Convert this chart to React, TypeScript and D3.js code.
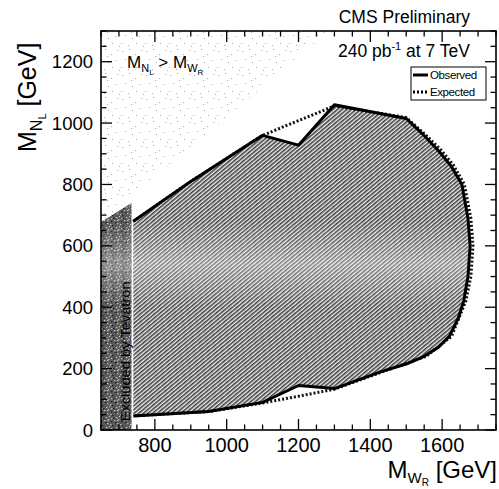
import React from "react";
import * as d3 from "d3";

// M_WR (x) / M_NL (y) contour points in GeV
const observedMW = [740, 900, 1100, 1200, 1300, 1500, 1545, 1590, 1625, 1655, 1672, 1678, 1672, 1660, 1645, 1620, 1590, 1550, 1500, 1430, 1300, 1200, 1100, 950, 740];
const observedMN = [680, 810, 960, 928, 1060, 1015, 965, 910, 860, 800, 690, 600, 500, 420, 365, 305, 270, 240, 215, 190, 135, 145, 90, 60, 46];

const expectedMW = [740, 900, 1100, 1300, 1500, 1548, 1595, 1632, 1662, 1680, 1686, 1680, 1666, 1626, 1555, 1430, 1300, 1200, 1100, 950, 740];
const expectedMN = [680, 810, 960, 1056, 1018, 968, 915, 862, 800, 690, 600, 500, 420, 305, 240, 188, 133, 110, 88, 60, 46];

// Tevatron excluded band and the M_N > M_W region
const tevatronMW = [650, 735, 735, 650];
const tevatronMN = [0, 0, 740, 678];
const forbiddenMW = [650, 650, 1285];
const forbiddenMN = [678, 1300, 1300];

const xTicks = [800, 1000, 1200, 1400, 1600];
const yTicks = [0, 200, 400, 600, 800, 1000, 1200];

const legendItems = [
  { name: "Observed", dash: "none" },
  { name: "Expected", dash: "2,2" },
];

// little texture tiles (pixel offsets inside a pattern cell)
const speckle = [[2, 3], [9, 1], [15, 6], [21, 2], [5, 11], [12, 14], [19, 12], [1, 19], [8, 21], [16, 19], [23, 22], [11, 8]];
const darkSpeckle = [[1, 1], [4, 0], [7, 3], [2, 5], [6, 7], [9, 6], [3, 8], [0, 4], [8, 9], [5, 2], [1, 8], [7, 0]];

const W = 499;
const H = 489;
const font = "'Liberation Sans', Arial, Helvetica, sans-serif";

export default function App() {
  const x = d3.scaleLinear().domain([650, 1750]).range([101, 496]);
  const y = d3.scaleLinear().domain([0, 1300]).range([430, 31]);

  const line = d3
    .line<[number, number]>()
    .x((d) => x(d[0]))
    .y((d) => y(d[1]));

  const observed = d3.zip(observedMW, observedMN) as [number, number][];
  const expected = d3.zip(expectedMW, expectedMN) as [number, number][];
  const tevatron = d3.zip(tevatronMW, tevatronMN) as [number, number][];
  const forbidden = d3.zip(forbiddenMW, forbiddenMN) as [number, number][];

  const [x0, x1] = x.range();
  const [y0, y1] = y.range();

  const xMinor = d3.range(650, 1751, 50);
  const yMinor = d3.range(0, 1301, 50);
  const isMajor = (v: number) => v % 200 === 0;

  return (
    <svg width={W} height={H} style={{ position: "absolute", left: 0, top: 0, background: "#fff" }} fontFamily={font}>
      <defs>
        <clipPath id="plot">
          <rect x={x0} y={y1} width={x1 - x0} height={y0 - y1} />
        </clipPath>
        <pattern id="hatch" width={3} height={3} patternUnits="userSpaceOnUse" patternTransform="rotate(50)">
          <rect width={3} height={3} fill="#eeeeee" />
          <line x1={0.8} y1={0} x2={0.8} y2={3} stroke="#2a2a2a" strokeWidth={1.4} />
        </pattern>
        <pattern id="speck" width={24} height={24} patternUnits="userSpaceOnUse">
          {speckle.map(([a, b], i) => (
            <rect key={i} x={a} y={b} width={1.2} height={1} fill="#9a9a9a" />
          ))}
        </pattern>
        <pattern id="dark" width={10} height={10} patternUnits="userSpaceOnUse">
          <rect width={10} height={10} fill="#5a5a5a" />
          {darkSpeckle.map(([a, b], i) => (
            <rect key={i} x={a} y={b} width={1.4} height={1.2} fill={i % 3 === 0 ? "#1a1a1a" : "#bdbdbd"} />
          ))}
        </pattern>
        <linearGradient id="band" x1="0" y1="0" x2="0" y2="1">
          <stop offset="0" stopColor="#fff" stopOpacity={0} />
          <stop offset="0.5" stopColor="#fff" stopOpacity={0.35} />
          <stop offset="1" stopColor="#fff" stopOpacity={0} />
        </linearGradient>
        <clipPath id="filled">
          <path d={line(observed) + "Z"} />
          <path d={line(tevatron) + "Z"} />
        </clipPath>
      </defs>

      <g clipPath="url(#plot)">
        <path d={line(forbidden) + "Z"} fill="url(#speck)" opacity={0.75} />
        <path d={line(observed) + "Z"} fill="url(#hatch)" />
        <path d={line(tevatron) + "Z"} fill="url(#dark)" />
        <rect
          x={x0}
          y={y(680)}
          width={x1 - x0}
          height={y(400) - y(680)}
          fill="url(#band)"
          clipPath="url(#filled)"
        />
        <path d={line(expected) ?? ""} fill="none" stroke="#111" strokeWidth={3} strokeDasharray="2,2" />
        <path d={line(observed) ?? ""} fill="none" stroke="#000" strokeWidth={3} strokeLinejoin="round" />
        <text
          transform={`translate(${x(730)},${y(28)}) rotate(-90)`}
          fontSize={13.5}
          textLength={140}
          lengthAdjust="spacingAndGlyphs"
          fill="#000"
        >
          Excluded by Tevatron
        </text>
      </g>

      {/* frame and ticks */}
      <rect x={x0} y={y1} width={x1 - x0} height={y0 - y1} fill="none" stroke="#000" strokeWidth={1.6} />
      {xMinor.map((v) => {
        const len = isMajor(v) ? 11 : 5.5;
        return (
          <g key={"x" + v}>
            <line x1={x(v)} x2={x(v)} y1={y0} y2={y0 - len} stroke="#000" strokeWidth={1.3} />
            <line x1={x(v)} x2={x(v)} y1={y1} y2={y1 + len} stroke="#000" strokeWidth={1.3} />
          </g>
        );
      })}
      {yMinor.map((v) => {
        const len = isMajor(v) ? 11 : 5.5;
        return (
          <g key={"y" + v}>
            <line x1={x0} x2={x0 + len} y1={y(v)} y2={y(v)} stroke="#000" strokeWidth={1.3} />
            <line x1={x1} x2={x1 - len} y1={y(v)} y2={y(v)} stroke="#000" strokeWidth={1.3} />
          </g>
        );
      })}

      {xTicks.map((t) => (
        <text key={t} x={x(t)} y={452} textAnchor="middle" fontSize={20}>
          {t}
        </text>
      ))}
      {yTicks.map((t) => (
        <text key={t} x={93} y={y(t) + 6.5} textAnchor="end" fontSize={18.5}>
          {t}
        </text>
      ))}

      {/* axis titles */}
      <text x={497} y={478} textAnchor="end" fontSize={24}>
        M
        <tspan dy={5} fontSize={15}>W</tspan>
        <tspan dy={3} fontSize={10}>R</tspan>
        <tspan dy={-8} fontSize={24}> [GeV]</tspan>
      </text>
      <text transform="translate(36,152) rotate(-90)" fontSize={25}>
        M
        <tspan dy={6} fontSize={16}>N</tspan>
        <tspan dy={4} fontSize={11}>L</tspan>
        <tspan dy={-10} fontSize={25}> [GeV]</tspan>
      </text>

      {/* annotations */}
      <text x={127} y={68} fontSize={17}>
        M
        <tspan dy={4} fontSize={11}>N</tspan>
        <tspan dy={3} fontSize={8}>L</tspan>
        <tspan dy={-7} fontSize={17}> &gt; M</tspan>
        <tspan dy={4} fontSize={11}>W</tspan>
        <tspan dy={3} fontSize={8}>R</tspan>
      </text>
      <text x={470} y={23} textAnchor="end" fontSize={17.5}>
        CMS Preliminary
      </text>
      <text x={470} y={57} textAnchor="end" fontSize={17.5}>
        240 pb<tspan dy={-7} fontSize={11}>-1</tspan>
        <tspan dy={7}> at 7 TeV</tspan>
      </text>

      {/* legend */}
      <rect x={411} y={67} width={75} height={33} fill="#fff" stroke="#000" strokeWidth={1} />
      {legendItems.map((d, i) => (
        <g key={d.name} transform={`translate(413,${75 + i * 17})`}>
          <line x1={0} x2={15} y1={0} y2={0} stroke="#000" strokeWidth={3} strokeDasharray={d.dash} />
          <text x={17} y={4} fontSize={11.5} letterSpacing={-0.4}>
            {d.name}
          </text>
        </g>
      ))}
    </svg>
  );
}
